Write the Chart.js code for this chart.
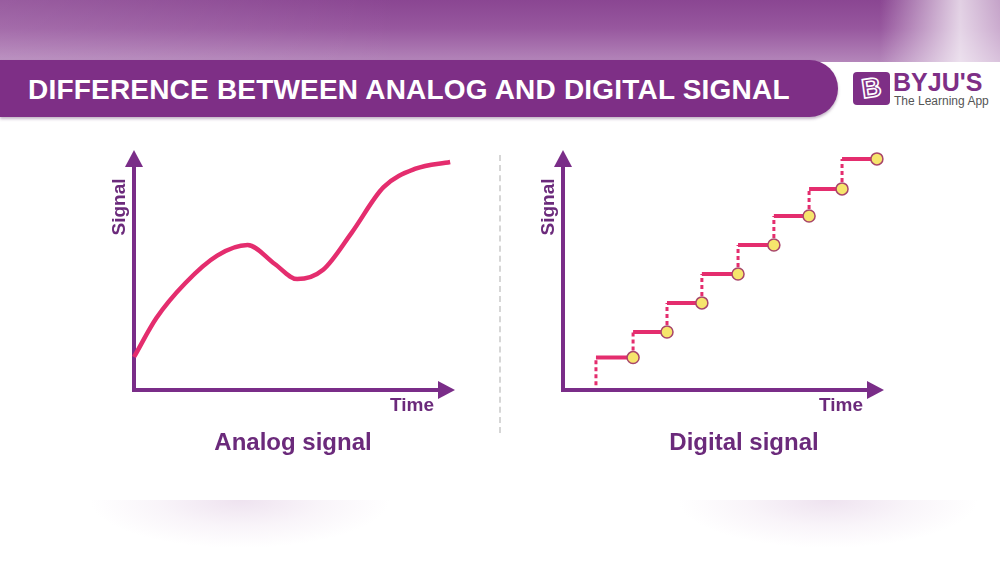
<!DOCTYPE html>
<html>
<head>
<meta charset="utf-8">
<script src="https://cdn.jsdelivr.net/npm/chart.js"></script>
<style>
  html, body { margin: 0; padding: 0; }
  body { width: 1000px; height: 563px; position: relative; overflow: hidden; background: #fff; font-family: "Liberation Sans", Arial, sans-serif; }
  .topband { position: absolute; left: 0; top: 0; width: 1000px; height: 62px;
    background: linear-gradient(180deg, #8a4692 0%, #97579e 45%, #b486ba 100%); }
  .topband .fade { position: absolute; left: 0; top: 0; width: 1000px; height: 62px;
    background: linear-gradient(90deg, rgba(255,255,255,0.12) 0%, rgba(255,255,255,0) 40%, rgba(255,255,255,0) 88%, rgba(255,255,255,0.75) 96%, rgba(255,255,255,0.5) 100%); }
  .titlebar { position: absolute; left: 0; top: 60px; width: 838px; height: 57px; background: #7e2f86;
    border-radius: 0 30px 30px 0; box-shadow: 0 2px 3px rgba(80,40,90,0.35); }
  .title { position: absolute; left: 28px; top: 76px; font-size: 28px; line-height: 28px; font-weight: bold; color: #fff; white-space: nowrap; letter-spacing: 0.2px; }
  .logo-box { position: absolute; left: 853px; top: 72px; width: 37px; height: 33px; background: #7e2f86; border-radius: 4px; }
  .logo-b { position: absolute; left: 853px; top: 72px; width: 37px; height: 33px; text-align: center; line-height: 33px; font-size: 27px; font-weight: bold; color: transparent; -webkit-text-stroke: 1.6px #fff; transform: rotate(-8deg); }
  .logo-name { position: absolute; left: 893px; top: 70px; font-size: 25px; line-height: 25px; font-weight: bold; color: #7e2f86; white-space: nowrap; }
  .logo-sub { position: absolute; left: 894px; top: 94px; font-size: 12px; line-height: 14px; color: #555; white-space: nowrap; }
  .chartbox { position: absolute; top: 140px; width: 380px; height: 300px; }
  .sep { position: absolute; left: 499px; top: 155px; height: 278px; border-left: 2px dashed #d6d6d6; }
  .caption { position: absolute; top: 428px; width: 300px; text-align: center; font-size: 24px; line-height: 28px; font-weight: bold; color: #6b2a7b; }
  .shadow { position: absolute; top: 500px; height: 48px; width: 300px;
    background: radial-gradient(ellipse 50% 100% at 50% 0%, rgba(190,145,195,0.26) 0%, rgba(205,170,210,0.12) 55%, rgba(255,255,255,0) 100%); }
</style>
</head>
<body>
<div class="topband"><div class="fade"></div></div>
<div class="titlebar"></div>
<div class="title">DIFFERENCE BETWEEN ANALOG AND DIGITAL SIGNAL</div>
<div class="logo-box"></div>
<div class="logo-b">B</div>
<div class="logo-name">BYJU'S</div>
<div class="logo-sub">The Learning App</div>

<div class="chartbox" style="left:100px"><canvas id="analogChart"></canvas></div>
<div class="sep"></div>
<div class="chartbox" style="left:530px"><canvas id="digitalChart"></canvas></div>

<div class="caption" style="left:143px">Analog signal</div>
<div class="caption" style="left:594px">Digital signal</div>
<div class="shadow" style="left:90px"></div>
<div class="shadow" style="left:678px"></div>

<script>
// ---- data ----
var analogTime   = [0, 0.7, 1.6, 2.6, 3.55, 4.4, 5.1, 5.9, 6.8, 7.8, 8.8, 9.88];
var analogSignal = [1.375, 3.0, 4.45, 5.6, 6.04, 5.25, 4.62, 5.0, 6.55, 8.45, 9.22, 9.5];

var stepEdges  = [1.03, 2.19, 3.25, 4.34, 5.47, 6.59, 7.69, 8.72, 9.81];
var stepLevels = [1.35, 2.42, 3.63, 4.83, 6.04, 7.25, 8.38, 9.63];
var stepFloor  = 0.2;

var axisTitles = ["Signal", "Time"];

var PURPLE = "#7a2d88";
var PINK = "#e42d6e";
var TEXT_PURPLE = "#6b2a7b";

// axes with arrow heads + axis titles
var arrowAxes = {
    id: "arrowAxes",
    beforeDatasetsDraw: function (chart) {
        var a = chart.chartArea, ctx = chart.ctx;
        ctx.save();
        ctx.strokeStyle = PURPLE;
        ctx.fillStyle = PURPLE;
        ctx.lineWidth = 4;
        ctx.beginPath();
        ctx.moveTo(a.left, a.top + 14);
        ctx.lineTo(a.left, a.bottom);
        ctx.lineTo(a.right - 14, a.bottom);
        ctx.stroke();
        // y arrow
        ctx.beginPath();
        ctx.moveTo(a.left, a.top);
        ctx.lineTo(a.left - 9, a.top + 17);
        ctx.lineTo(a.left + 9, a.top + 17);
        ctx.closePath();
        ctx.fill();
        // x arrow
        ctx.beginPath();
        ctx.moveTo(a.right + 1, a.bottom);
        ctx.lineTo(a.right - 16, a.bottom - 9);
        ctx.lineTo(a.right - 16, a.bottom + 9);
        ctx.closePath();
        ctx.fill();

        ctx.fillStyle = TEXT_PURPLE;
        ctx.font = "bold 19px 'Liberation Sans', Arial, sans-serif";
        ctx.textAlign = "center";
        ctx.textBaseline = "middle";
        ctx.save();
        ctx.translate(a.left - 14, a.top + 57);
        ctx.rotate(-Math.PI / 2);
        ctx.fillText(axisTitles[0], 0, 0);
        ctx.restore();
        ctx.fillText(axisTitles[1], a.right - 42, a.bottom + 16);
        ctx.restore();
    }
};

function baseOptions(padLeft, padRight) {
    return {
        responsive: true,
        maintainAspectRatio: false,
        animation: false,
        layout: { padding: { left: padLeft, right: padRight, top: 10, bottom: 50 } },
        plugins: { legend: { display: false }, tooltip: { enabled: false } },
        scales: {
            x: { type: "linear", min: 0, max: 10, display: false },
            y: { type: "linear", min: 0, max: 10, display: false }
        }
    };
}

// ---- analog ----
new Chart(document.getElementById("analogChart"), {
    type: "line",
    data: {
        datasets: [{
            data: analogTime.map(function (t, i) { return { x: t, y: analogSignal[i] }; }),
            borderColor: PINK,
            borderWidth: 4.5,
            pointRadius: 0,
            cubicInterpolationMode: "monotone",
            clip: false
        }]
    },
    options: baseOptions(34, 26),
    plugins: [arrowAxes]
});

// ---- digital ----
var flats = [], risers = [], samples = [];
stepLevels.forEach(function (lv, i) {
    flats.push({ x: stepEdges[i], y: lv }, { x: stepEdges[i + 1], y: lv }, { x: stepEdges[i + 1], y: null });
    risers.push({ x: stepEdges[i], y: i === 0 ? stepFloor : stepLevels[i - 1] }, { x: stepEdges[i], y: lv }, { x: stepEdges[i], y: null });
    samples.push({ x: stepEdges[i + 1], y: lv });
});

new Chart(document.getElementById("digitalChart"), {
    type: "line",
    data: {
        datasets: [
            { data: samples, showLine: false, pointRadius: 6, pointBackgroundColor: "#f6e56c",
              pointBorderColor: "#a8456a", pointBorderWidth: 1.5, order: 0, clip: false },
            { data: flats, borderColor: PINK, borderWidth: 4, pointRadius: 0, spanGaps: false, order: 1, clip: false },
            { data: risers, borderColor: PINK, borderWidth: 3, borderDash: [4, 3], pointRadius: 0, spanGaps: false, order: 2, clip: false }
        ]
    },
    options: baseOptions(33, 27),
    plugins: [arrowAxes]
});
</script>
</body>
</html>
